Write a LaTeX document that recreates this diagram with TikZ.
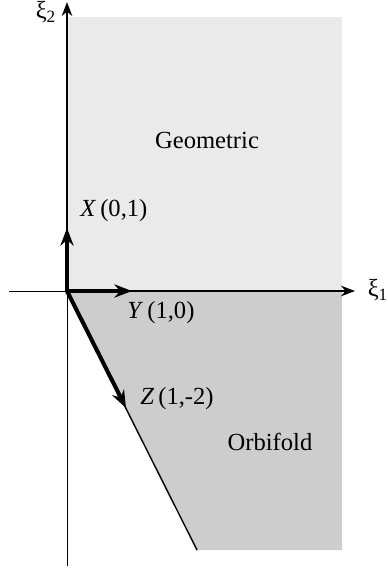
\documentclass[tikz,border=0pt]{standalone}
\usepackage{fontspec}
\setmainfont{Liberation Serif}
\usetikzlibrary{arrows.meta, positioning}

\definecolor{geomgray}{RGB}{234,234,234}
\definecolor{orbigray}{RGB}{205,205,205}

\begin{document}
\begin{tikzpicture}[x=0.02cm, y=-0.02cm,
        txt/.style={font=\fontsize{14}{16}\selectfont, inner sep=0pt},
        negaxis/.style={line width=0.4pt},
        posaxis/.style={line width=1.1pt, -{Stealth[length=8pt, width=6pt]}},
        vec/.style={line width=2.3pt, -{Stealth[length=10pt, width=7.5pt]}},
        edge/.style={line width=0.8pt}
    ]
        \useasboundingbox (0,0) rectangle (387,569);

        % === Cones ===
        \coordinate (O) at (67,291);
        \coordinate (geoTL) at (67,17);
        \coordinate (geoBR) at (342,291);
        \coordinate (orbBR) at (342,550);
        \coordinate (orbBL) at (197,550);
        \fill[geomgray] (geoTL) rectangle (geoBR);
        \fill[orbigray] (O) -- (geoBR) -- (orbBR) -- (orbBL) -- cycle;
        \draw[edge] (O) -- (orbBL);

        % Axes
        \coordinate (x1) at (9,291);
        \coordinate (x2) at (355,291);
        \coordinate (y1) at (67,566);
        \coordinate (y2) at (67,2);
        \draw[negaxis] (x1) -- (O);
        \draw[negaxis] (y1) -- (O);
        \draw[posaxis] (O) -- (x2);
        \draw[posaxis] (O) -- (y2);
        \node[txt] (xi1) at (378,290) {ξ\textsubscript{1}};
        \node[txt] (xi2) at (46,12) {ξ\textsubscript{2}};

        % Generators
        \coordinate (X) at (67,228);
        \coordinate (Y) at (132,291);
        \coordinate (Z) at (126,408);
        \draw[vec] (O) -- (X);
        \draw[vec] (O) -- (Y);
        \draw[vec] (O) -- (Z);

        \node[txt, anchor=west] (lblX) at (80,211) {\textit{X}\,(0,1)};
        \node[txt, anchor=west] (lblY) at (127,313) {\textit{Y}\,(1,0)};
        \node[txt, anchor=west] (lblZ) at (140,399) {\textit{Z}\,(1,-2)};

        \node[txt] (geo) at (207,140) {Geometric};
        \node[txt] (orb) at (270,442) {Orbifold};

    \end{tikzpicture}
\end{document}
